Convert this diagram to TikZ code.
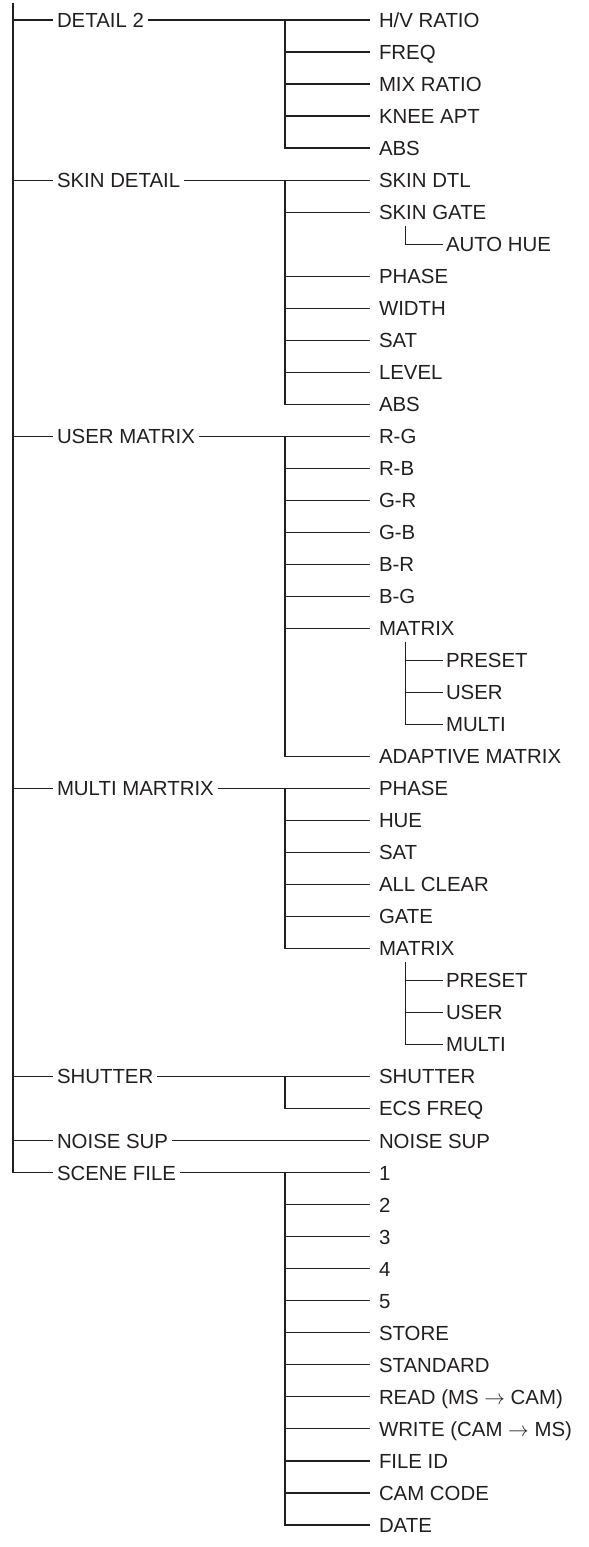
\documentclass[tikz,border=0pt]{standalone}
\usepackage{fontspec}
\setmainfont{Liberation Sans}
\definecolor{ink}{HTML}{231F20}
\begin{document}
\begin{tikzpicture}[x=1bp,y=-1bp,
  every node/.style={font=\fontsize{20.4bp}{23bp}\selectfont, text=ink, inner sep=0pt,
    text height=14.6bp, text depth=0pt, anchor=west},
  topitem/.style={outer xsep=4bp},
  item/.style={outer xsep=9bp},
  subitem/.style={outer xsep=3.5bp},
  conn/.style={draw=ink, line width=1.2bp},
  trunk/.style={draw=ink, line width=2bp}]
\useasboundingbox (0,0) rectangle (589,1547);
\coordinate (top) at (13,3);
\coordinate (v2) at (285,0);
\coordinate (v3) at (405.5,0);
% level 1
\node[topitem] (d2) at (53,20) {DETAIL 2};
\node[topitem] (sd) at (53,180.1) {SKIN DETAIL};
\node[topitem] (um) at (53,436.26) {USER MATRIX};
\node[topitem] (mm) at (53,788.48) {MULTI MARTRIX};
\node[topitem] (sh) at (53,1076.66) {SHUTTER};
\node[topitem] (ns) at (53,1140.7) {NOISE SUP};
\node[topitem] (sf) at (53,1172.72) {SCENE FILE};
% level 2
\node[item] (hv) at (370,20) {H/V RATIO};
\node[item] (fq) at (370,52.02) {FREQ};
\node[item] (mx) at (370,84.04) {MIX RATIO};
\node[item] (kn) at (370,116.06) {KNEE APT};
\node[item] (ab1) at (370,148.08) {ABS};
\node[item] (sdtl) at (370,180.1) {SKIN DTL};
\node[item] (sg) at (370,212.12) {SKIN GATE};
\node[item] (ph1) at (370,276.16) {PHASE};
\node[item] (wd) at (370,308.18) {WIDTH};
\node[item] (sat1) at (370,340.2) {SAT};
\node[item] (lv) at (370,372.22) {LEVEL};
\node[item] (ab2) at (370,404.24) {ABS};
\node[item] (rg) at (370,436.26) {R-G};
\node[item] (rb) at (370,468.28) {R-B};
\node[item] (gr) at (370,500.3) {G-R};
\node[item] (gb) at (370,532.32) {G-B};
\node[item] (br) at (370,564.34) {B-R};
\node[item] (bg) at (370,596.36) {B-G};
\node[item] (mat1) at (370,628.38) {MATRIX};
\node[item] (adm) at (370,756.46) {ADAPTIVE MATRIX};
\node[item] (ph2) at (370,788.48) {PHASE};
\node[item] (hue) at (370,820.5) {HUE};
\node[item] (sat2) at (370,852.52) {SAT};
\node[item] (allc) at (370,884.54) {ALL CLEAR};
\node[item] (gate) at (370,916.56) {GATE};
\node[item] (mat2) at (370,948.58) {MATRIX};
\node[item] (shu) at (370,1076.66) {SHUTTER};
\node[item] (ecs) at (370,1108.68) {ECS FREQ};
\node[item] (nsup) at (370,1140.7) {NOISE SUP};
\node[item] (f1) at (370,1172.72) {1};
\node[item] (f2) at (370,1204.74) {2};
\node[item] (f3) at (370,1236.76) {3};
\node[item] (f4) at (370,1268.78) {4};
\node[item] (f5) at (370,1300.8) {5};
\node[item] (store) at (370,1332.82) {STORE};
\node[item] (std) at (370,1364.84) {STANDARD};
\node[item] (read) at (370,1396.86) {READ (MS $\rightarrow$ CAM)};
\node[item] (write) at (370,1428.88) {WRITE (CAM $\rightarrow$ MS)};
\node[item] (fid) at (370,1460.9) {FILE ID};
\node[item] (cam) at (370,1492.92) {CAM CODE};
\node[item] (date) at (370,1524.94) {DATE};
% level 3
\node[subitem] (ah) at (442.5,244.14) {AUTO HUE};
\node[subitem] (pr1) at (442.5,660.4) {PRESET};
\node[subitem] (us1) at (442.5,692.42) {USER};
\node[subitem] (mu1) at (442.5,724.44) {MULTI};
\node[subitem] (pr2) at (442.5,980.6) {PRESET};
\node[subitem] (us2) at (442.5,1012.62) {USER};
\node[subitem] (mu2) at (442.5,1044.64) {MULTI};
% trunk
\draw[trunk] (top) -- (top |- sf.west);
\foreach \n in {d2,sd,um,mm,sh,ns}{\draw[conn] (top |- \n.west) -- (\n.west);}
\draw[conn] ([yshift=1bp]top |- sf.west) -- (top |- sf.west) -- (sf.west);
% parents to first children
\draw[conn] (d2.east) -- (hv.west);
\draw[conn] (sd.east) -- (sdtl.west);
\draw[conn] (um.east) -- (rg.west);
\draw[conn] (mm.east) -- (ph2.west);
\draw[conn] (sh.east) -- (shu.west);
\draw[conn] (ns.east) -- (nsup.west);
\draw[conn] (sf.east) -- (f1.west);
% second-level verticals
\draw[conn] (hv.west -| v2) |- (ab1.west);
\draw[conn] (sdtl.west -| v2) |- (ab2.west);
\draw[conn] (rg.west -| v2) |- (adm.west);
\draw[conn] (ph2.west -| v2) |- (mat2.west);
\draw[conn] (shu.west -| v2) |- (ecs.west);
\draw[conn] (f1.west -| v2) |- (date.west);
\foreach \n in {fq,mx,kn,sg,ph1,wd,sat1,lv,rb,gr,gb,br,bg,mat1,hue,sat2,allc,gate,
  f2,f3,f4,f5,store,std,read,write,fid,cam}{\draw[conn] (\n.west -| v2) -- (\n.west);}
% third-level
\coordinate (sgb) at ([yshift=-6.5bp]sg.south);
\coordinate (m1b) at ([yshift=-6bp]mat1.south);
\coordinate (m2b) at ([yshift=-6bp]mat2.south);
\draw[conn] (sgb -| v3) |- (ah.west);
\draw[conn] (m1b -| v3) |- (mu1.west);
\draw[conn] (m2b -| v3) |- (mu2.west);
\foreach \n in {pr1,us1,pr2,us2}{\draw[conn] (\n.west -| v3) -- (\n.west);}
\end{tikzpicture}
\end{document}
